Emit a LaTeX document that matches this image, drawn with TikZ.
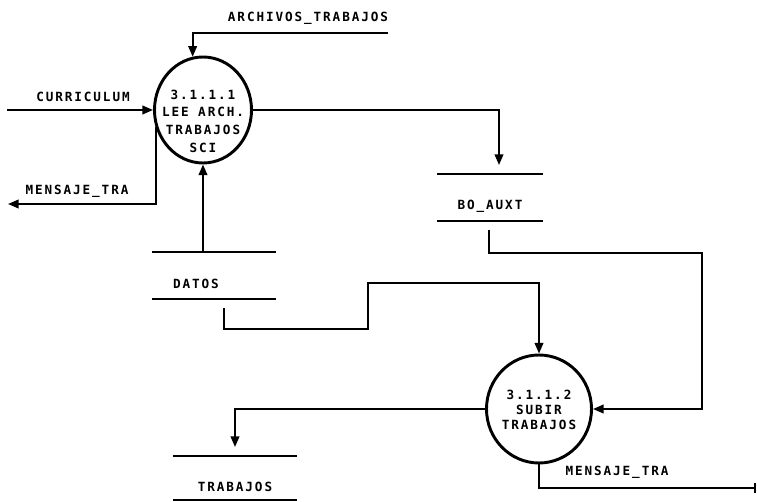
\documentclass[tikz,border=0pt]{standalone}
\usepackage{fontspec}
\newfontfamily\dfd{DejaVu Sans Mono}[LetterSpace=15]
\usetikzlibrary{arrows.meta,shapes.geometric,calc}
\begin{document}
\begin{tikzpicture}[x=0.75pt,y=-0.75pt,
  lbl/.style={font=\dfd\bfseries\fontsize{9.5}{11}\selectfont, inner sep=0pt},
  proc/.style={ellipse, draw, line width=2.2pt, inner sep=0pt},
  store/.style={rectangle, inner sep=0pt, outer sep=0pt},
  flow/.style={line width=1.4pt},
  arr/.style={flow, -{Triangle[length=8pt,width=6.5pt]}},
  barend/.style={flow, -{Bar[width=8pt,line width=1.4pt]}},
  storeline/.style={line width=1.4pt}]
\useasboundingbox (0,0) rectangle (757,502);

% processes
\node[proc, minimum width=72.75pt, minimum height=79.5pt] (c1) at (203,110) {};
\node[lbl, align=center, font=\dfd\bfseries\fontsize{9.5}{13.3}\selectfont] (c1t) at (203,121)
  {3.1.1.1\\LEE ARCH.\\TRABAJOS\\SCI};
\node[proc, minimum width=78.75pt, minimum height=81pt] (c2) at (539,409) {};
\node[lbl, align=center, font=\dfd\bfseries\fontsize{9.5}{11.25}\selectfont] (c2t) at (539,410)
  {3.1.1.2\\SUBIR\\TRABAJOS};

% stores
\node[store, minimum width=79.5pt, minimum height=35.25pt] (bo) at (490,197.5) {};
\draw[storeline] (bo.north west) -- (bo.north east) (bo.south west) -- (bo.south east);
\node[lbl] (bot) at (490,206) {BO\_AUXT};

\node[store, minimum width=93pt, minimum height=35.25pt] (da) at (214,275.5) {};
\draw[storeline] (da.north west) -- (da.north east) (da.south west) -- (da.south east);
\node[lbl] (dat) at (196,284) {DATOS};

\node[store, minimum width=93pt, minimum height=33pt] (tr) at (235,478) {};
\draw[storeline] (tr.north west) -- (tr.north east) (tr.south west) -- (tr.south east);
\node[lbl] (trt) at (235,487) {TRABAJOS};

% flow labels
\node[lbl] (l1) at (308,18) {ARCHIVOS\_TRABAJOS};
\node[lbl] (l2) at (83,97) {CURRICULUM};
\node[lbl] (l3) at (77,191) {MENSAJE\_TRA};
\node[lbl] (l4) at (617,472) {MENSAJE\_TRA};

% free ends
\coordinate (a1) at (388,33);
\coordinate (cu) at (7,110);
\coordinate (m1) at (8,204);
\coordinate (m2) at (756,488);

% connectors
\draw[arr] (a1) -| (c1.101);
\draw[arr] (cu) -- (c1.west);
\draw[arr] (c1.200) |- (m1);
\draw[arr] (c1.south |- da.north) -- (c1.south);
\draw[arr] (c1.east) -| ($(bo.north)+(9,-9)$);
\draw[arr] ($(bo.south)+(-1,9)$) -- ++(0,23) -- ++(213,0) |- (c2.east);
\draw[arr] ($(da.south)+(10,9)$) -- ++(0,21) -- ++(144,0) -- ++(0,-46) -| (c2.north);
\draw[arr] (c2.west) -| ($(tr.north)+(0,-9)$);
\draw[barend] (c2.south) |- (m2);
\end{tikzpicture}
\end{document}
